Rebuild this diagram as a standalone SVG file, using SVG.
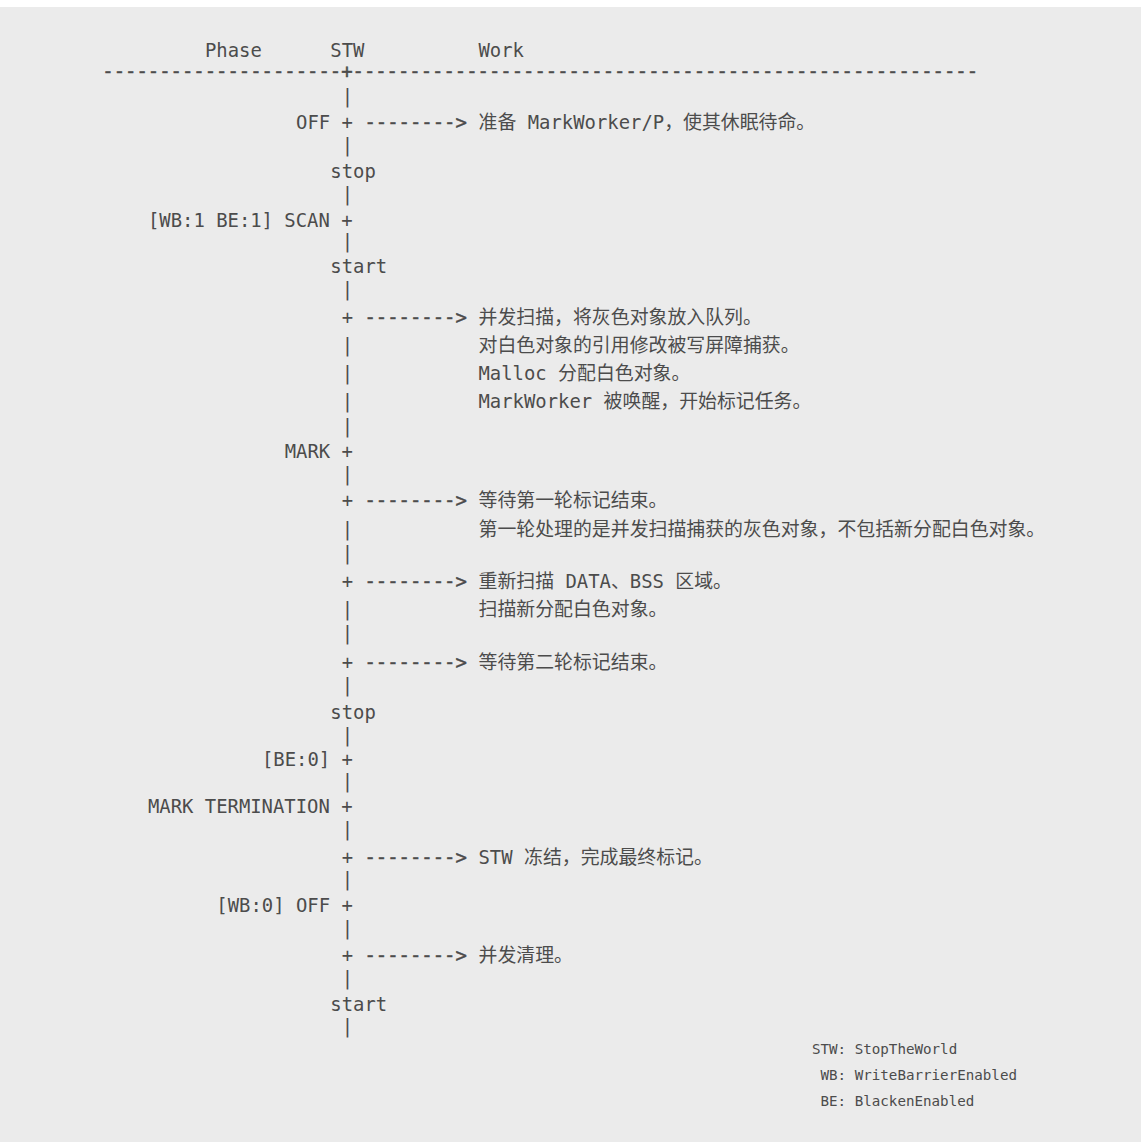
<svg xmlns="http://www.w3.org/2000/svg" width="1142" height="1142" viewBox="0 0 1142 1142">
<style>
  text { font-family: "DejaVu Sans Mono", "Noto Sans CJK SC", monospace; font-size: 18.9px; fill: #4c4c4c; white-space: pre; }
  .legend { font-size: 14.2px; }
  .dash { stroke: #4c4c4c; stroke-width: 0.5px; }
</style>
<rect x="0" y="0" width="1142" height="1142" fill="#ffffff"/>
<rect x="0" y="7" width="1141" height="1135" fill="#ebebeb"/>

<g id="header">
  <text x="204.9" y="56.5">Phase</text>
  <text x="330.3" y="56.5">STW</text>
  <text x="478.5" y="56.5">Work</text>
  <text class="dash" x="102.3" y="77.5">---------------------+-------------------------------------------------------</text>
</g>

<g id="connectors">
  <text x="341.7" y="103">|</text>
  <text class="dash" x="364.5" y="129">--------></text>
  <text x="341.7" y="152">|</text>
  <text x="341.7" y="201">|</text>
  <text x="341.7" y="248">|</text>
  <text x="341.7" y="296">|</text>
  <text x="341.7" y="324">+</text>
  <text class="dash" x="364.5" y="324">--------></text>
  <text x="341.7" y="352">|</text>
  <text x="341.7" y="380">|</text>
  <text x="341.7" y="408">|</text>
  <text x="341.7" y="433">|</text>
  <text x="341.7" y="481">|</text>
  <text x="341.7" y="507">+</text>
  <text class="dash" x="364.5" y="507">--------></text>
  <text x="341.7" y="536">|</text>
  <text x="341.7" y="560">|</text>
  <text x="341.7" y="588">+</text>
  <text class="dash" x="364.5" y="588">--------></text>
  <text x="341.7" y="616">|</text>
  <text x="341.7" y="640">|</text>
  <text x="341.7" y="669">+</text>
  <text class="dash" x="364.5" y="669">--------></text>
  <text x="341.7" y="692">|</text>
  <text x="341.7" y="742">|</text>
  <text x="341.7" y="788">|</text>
  <text x="341.7" y="836">|</text>
  <text x="341.7" y="864">+</text>
  <text class="dash" x="364.5" y="864">--------></text>
  <text x="341.7" y="886">|</text>
  <text x="341.7" y="935">|</text>
  <text x="341.7" y="962">+</text>
  <text class="dash" x="364.5" y="962">--------></text>
  <text x="341.7" y="985">|</text>
  <text x="341.7" y="1033">|</text>
</g>

<g id="phase-off">
  <text x="296.1" y="129">OFF +</text>
</g>
<g id="stw-stop-1">
  <text x="330.3" y="178.3">stop</text>
</g>
<g id="phase-scan">
  <text x="147.9" y="226.7">[WB:1 BE:1] SCAN +</text>
</g>
<g id="stw-start-1">
  <text x="330.3" y="273.3">start</text>
</g>
<g id="phase-mark">
  <text x="284.7" y="458">MARK +</text>
</g>
<g id="stw-stop-2">
  <text x="330.3" y="719">stop</text>
</g>
<g id="phase-be0">
  <text x="261.9" y="766">[BE:0] +</text>
</g>
<g id="phase-mark-termination">
  <text x="147.9" y="812.7">MARK TERMINATION +</text>
</g>
<g id="phase-wb0-off">
  <text x="216.3" y="912">[WB:0] OFF +</text>
</g>
<g id="stw-start-2">
  <text x="330.3" y="1011">start</text>
</g>

<g id="work-off">
  <text x="478.5" y="129">准备 MarkWorker/P，使其休眠待命。</text>
</g>
<g id="work-scan">
  <text x="478.5" y="324">并发扫描，将灰色对象放入队列。</text>
  <text x="478.5" y="352">对白色对象的引用修改被写屏障捕获。</text>
  <text x="478.5" y="380">Malloc 分配白色对象。</text>
  <text x="478.5" y="408">MarkWorker 被唤醒，开始标记任务。</text>
</g>
<g id="work-mark-1">
  <text x="478.5" y="507">等待第一轮标记结束。</text>
  <text x="478.5" y="536">第一轮处理的是并发扫描捕获的灰色对象，不包括新分配白色对象。</text>
</g>
<g id="work-mark-2">
  <text x="478.5" y="588">重新扫描 DATA、BSS 区域。</text>
  <text x="478.5" y="616">扫描新分配白色对象。</text>
</g>
<g id="work-mark-3">
  <text x="478.5" y="669">等待第二轮标记结束。</text>
</g>
<g id="work-termination">
  <text x="478.5" y="864">STW 冻结，完成最终标记。</text>
</g>
<g id="work-sweep">
  <text x="478.5" y="962">并发清理。</text>
</g>

<g id="legend">
  <text class="legend" x="812" y="1054">STW: StopTheWorld</text>
  <text class="legend" x="812" y="1080"> WB: WriteBarrierEnabled</text>
  <text class="legend" x="812" y="1106"> BE: BlackenEnabled</text>
</g>
</svg>
